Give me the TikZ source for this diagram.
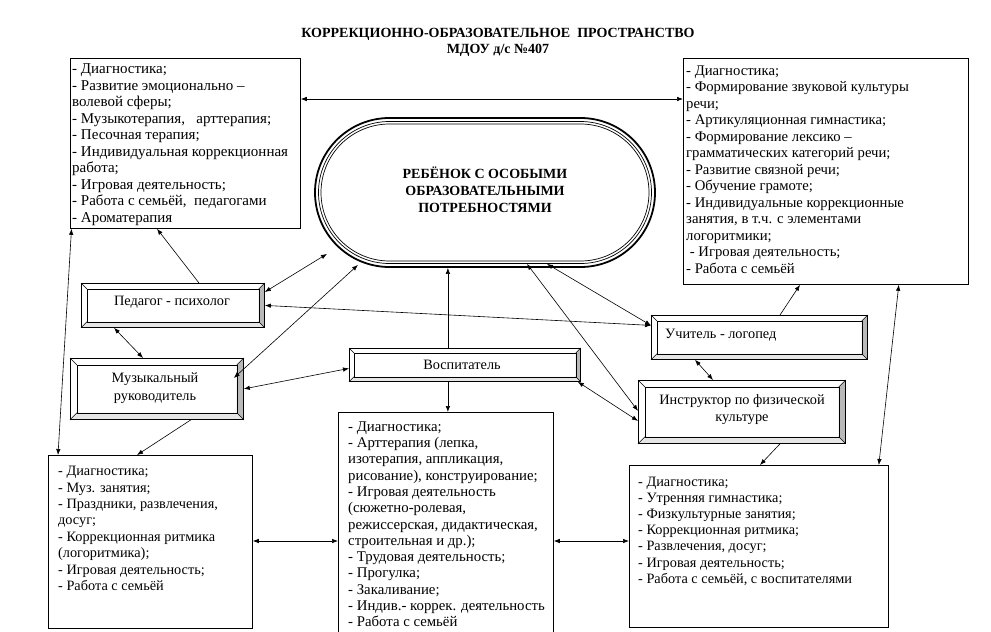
\documentclass[tikz,border=0pt]{standalone}
\usepackage{fontspec}
\setmainfont{Liberation Serif}
\usetikzlibrary{arrows.meta,shapes.misc,calc}
\newcommand{\bevelfaces}[2]{%
  \fill[gray!55] (#1.north east) -- (#1.south east) -- ([xshift=-#2pt,yshift=#2pt]#1.south east) -- ([xshift=-#2pt,yshift=-#2pt]#1.north east) -- cycle;
  \fill[gray!20] (#1.south west) -- (#1.south east) -- ([xshift=-#2pt,yshift=#2pt]#1.south east) -- ([xshift=#2pt,yshift=#2pt]#1.south west) -- cycle;
  \draw[line width=0.6pt] ([xshift=#2pt,yshift=-#2pt]#1.north west) rectangle ([xshift=-#2pt,yshift=#2pt]#1.south east);
  \draw[line width=0.6pt] (#1.north west) -- ([xshift=#2pt,yshift=-#2pt]#1.north west)
     (#1.north east) -- ([xshift=-#2pt,yshift=-#2pt]#1.north east)
     (#1.south west) -- ([xshift=#2pt,yshift=#2pt]#1.south west)
     (#1.south east) -- ([xshift=-#2pt,yshift=#2pt]#1.south east);
  \draw[line width=0.8pt] (#1.north west) rectangle (#1.south east);
}
\begin{document}
\begin{tikzpicture}[x=1pt,y=-1pt,
  box/.style={draw, line width=0.8pt, anchor=north west, inner sep=0pt, fill=white},
  bev/.style={draw, line width=0.8pt, anchor=north west, inner sep=0pt, fill=white},
  lst/.style={anchor=north west, inner sep=0pt, align=left},
  body/.style={font=\fontsize{14.3}{16.5}\selectfont},
  arr/.style={line width=0.6pt, -{Latex[length=6pt,width=4.5pt]}},
  darr/.style={line width=0.6pt, {Latex[length=6pt,width=4.5pt]}-{Latex[length=6pt,width=4.5pt]}}
]
\useasboundingbox (0,0) rectangle (991,632);
\clip (0,0) rectangle (991,632);
\fill[white] (0,0) rectangle (991,632);

% title
\node[anchor=north, inner sep=0pt, align=center, font=\fontsize{14}{16}\selectfont\bfseries] (title) at (498,25.8)
  {\strut КОРРЕКЦИОННО-ОБРАЗОВАТЕЛЬНОЕ\ \ ПРОСТРАНСТВО\\МДОУ д/с №407};

% text boxes
\node[box, minimum width=230pt, minimum height=170pt] (tl) at (70,58) {};
\node[lst, font=\fontsize{15}{16.55}\selectfont] (tlT) at (72,61.7) {\strut - Диагностика;\\
- Развитие эмоционально –\\
волевой сферы;\\
- Музыкотерапия,\ \ \ арттерапия;\\
- Песочная терапия;\\
- Индивидуальная коррекционная\\
работа;\\
- Игровая деятельность;\\
- Работа с семьёй,\ \ педагогами\\
- Ароматерапия};

\node[box, minimum width=285pt, minimum height=226pt] (tr) at (683,58) {};
\node[lst, font=\fontsize{14.7}{16.5}\selectfont] (trT) at (686,63.5) {\strut - Диагностика;\\
- Формирование звуковой культуры\\
речи;\\
- Артикуляционная гимнастика;\\
- Формирование лексико –\\
грамматических категорий речи;\\
- Развитие связной речи;\\
- Обучение грамоте;\\
- Индивидуальные коррекционные\\
занятия, в т.ч. с элементами\\
логоритмики;\\
\ - Игровая деятельность;\\
- Работа с семьёй};

\node[box, minimum width=204pt, minimum height=173pt] (bl) at (48,455) {};
\node[lst, font=\fontsize{14.3}{16.4}\selectfont] (blT) at (58,464) {\strut - Диагностика;\\
- Муз. занятия;\\
- Праздники, развлечения,\\
досуг;\\
- Коррекционная ритмика\\
(логоритмика);\\
- Игровая деятельность;\\
- Работа с семьёй};

\node[box, minimum width=215pt, minimum height=240pt] (bm) at (338,412) {};
\node[lst, font=\fontsize{14.8}{16.3}\selectfont] (bmT) at (348,419.6) {\strut - Диагностика;\\
- Арттерапия (лепка,\\
изотерапия, аппликация,\\
рисование), конструирование;\\
- Игровая деятельность\\
(сюжетно-ролевая,\\
режиссерская, дидактическая,\\
строительная и др.);\\
- Трудовая деятельность;\\
- Прогулка;\\
- Закаливание;\\
- Индив.- коррек. деятельность\\
- Работа с семьёй};

\node[box, minimum width=259pt, minimum height=162pt] (br) at (629,465) {};
\node[lst, font=\fontsize{14.3}{16.2}\selectfont] (brT) at (638,474.5) {\strut - Диагностика;\\
- Утренняя гимнастика;\\
- Физкультурные занятия;\\
- Коррекционная ритмика;\\
- Развлечения, досуг;\\
- Игровая деятельность;\\
- Работа с семьёй,\ с воспитателями};

% central oval
\node[rounded rectangle, draw, line width=1.8pt, minimum width=340pt, minimum height=149pt, inner sep=0pt] (child) at (485,192.5) {};
\node[rounded rectangle, draw, line width=0.7pt, minimum width=333pt, minimum height=142pt, inner sep=0pt] (childA) at (485,192.5) {};
\node[rounded rectangle, draw, line width=0.7pt, minimum width=328pt, minimum height=137pt, inner sep=0pt] (childB) at (485,192.5) {};
\node[align=center, inner sep=0pt, font=\fontsize{14}{17}\selectfont\bfseries] (childT) at (485,190)
  {РЕБЁНОК С ОСОБЫМИ\\ОБРАЗОВАТЕЛЬНЫМИ\\ПОТРЕБНОСТЯМИ};

% bevel boxes
\node[bev, minimum width=183pt, minimum height=44pt] (ped) at (81,283) {};
\bevelfaces{ped}{6}
\node[body, inner sep=0pt] (pedT) at (172,302) {Педагог - психолог};

\node[bev, minimum width=173pt, minimum height=61pt] (muz) at (70,358) {};
\bevelfaces{muz}{7}
\node[body, inner sep=0pt, align=center, font=\fontsize{14.3}{18}\selectfont] (muzT) at (155,388) {Музыкальный\\руководитель};

\node[bev, minimum width=231pt, minimum height=33pt] (vos) at (349,348) {};
\bevelfaces{vos}{5}
\node[body, inner sep=0pt] (vosT) at (462,364.5) {Воспитатель};

\node[bev, minimum width=216pt, minimum height=44pt] (uch) at (651,315) {};
\bevelfaces{uch}{6}
\node[body, inner sep=0pt, anchor=west] (uchT) at (665,335) {Учитель - логопед};

\node[bev, minimum width=207pt, minimum height=63pt] (ins) at (638,380) {};
\bevelfaces{ins}{7}
\node[body, inner sep=0pt, align=center, font=\fontsize{14.3}{17}\selectfont] (insT) at (742,409.5) {Инструктор по физической\\культуре};

% connectors
\draw[darr] ([yshift=-41pt]tl.north east) -- ([yshift=-41pt]tr.north west);
\draw[arr] ([xshift=118pt]ped.north west) -- ([xshift=87pt]tl.south west);
\draw[darr] ([xshift=1.5pt]tl.south west) -- ([xshift=10pt]bl.north west);
\draw[darr] ([yshift=-9pt]ped.north east) -- ([xshift=-158pt,yshift=14pt]child.south);
\draw[darr] ([xshift=-10pt,yshift=-20pt]muz.north east) -- ([xshift=-127pt,yshift=3pt]child.south);
\draw[darr] (ped.east) -- ([yshift=12pt]uch.west);
\draw[darr] ([xshift=62pt,yshift=4pt]child.south) -- ([yshift=12pt]uch.west);
\draw[darr] ([xshift=42pt,yshift=4pt]child.south) -- ([yshift=1pt]ins.west);
\draw[darr] ([xshift=-3pt]vos.south east) -- ([yshift=-9pt]ins.west);
\draw[arr] ([xshift=-17pt]vos.north) -- ([xshift=-17pt]vos.north |- child.south);
\draw[arr] ([xshift=-17pt]vos.south) -- ([xshift=-17pt]vos.south |- bm.north);
\draw[darr] (muz.east) -- ([yshift=-3.5pt]vos.west);
\draw[darr] ([xshift=33pt]ped.south west) -- ([xshift=73pt]muz.north west);
\draw[arr] ([xshift=34pt]muz.south) -- ([xshift=89pt]bl.north west);
\draw[darr] ([yshift=-86pt]bl.north east) -- ([yshift=-129pt]bm.north west);
\draw[darr] ([yshift=-129pt]bm.north east) -- ([yshift=-76pt]br.north west);
\draw[darr] ([xshift=44pt]uch.south west) -- ([xshift=75pt]ins.north west);
\draw[arr] ([xshift=129pt]uch.north west) -- ([xshift=117pt]tr.south west);
\draw[darr] ([xshift=-70pt]tr.south east) -- ([xshift=-10pt]br.north east);
\draw[arr] ([xshift=142pt]ins.south west) -- ([xshift=131pt]br.north west);
\end{tikzpicture}
\end{document}
